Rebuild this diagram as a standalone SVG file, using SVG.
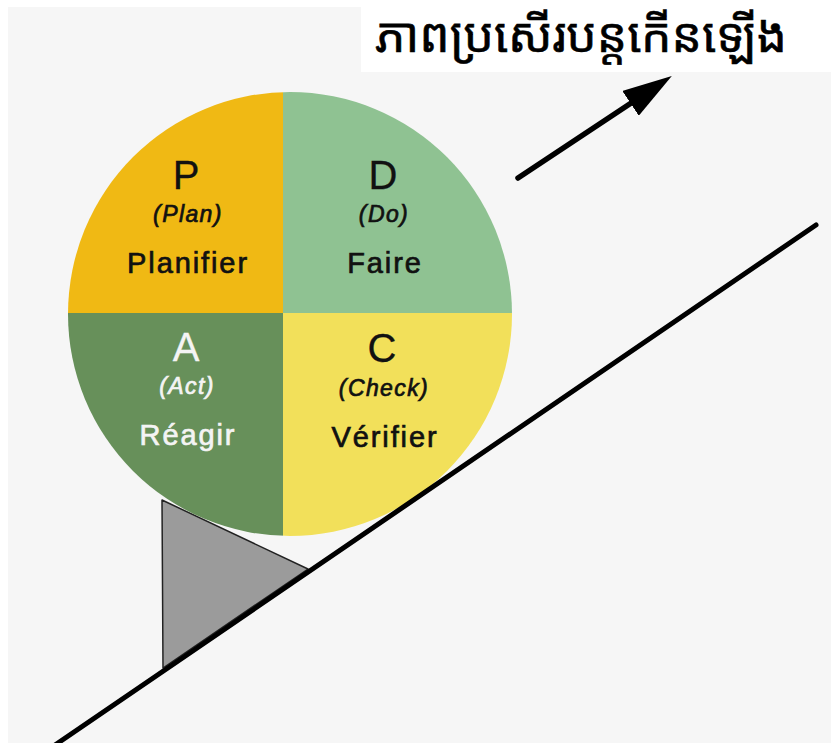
<svg xmlns="http://www.w3.org/2000/svg" width="831" height="743" viewBox="0 0 831 743">
  <defs>
    <style>
      .lt { font-family: "Liberation Sans", Arial, sans-serif; text-anchor: middle; }
      .dark { fill: #111111; stroke: #111111; stroke-width: 0.3px; }
      .light { fill: #f4f4f4; stroke: #f4f4f4; stroke-width: 0.3px; }
      .big { font-size: 40px; }
      .sub { font-size: 23px; font-style: italic; letter-spacing: 1.4px; stroke-width: 0.7px; }
      .word { font-size: 29px; letter-spacing: 1.9px; stroke-width: 0.7px; }
      .km { font-family: "Noto Sans Khmer", "Noto Serif Khmer", "Khmer OS", sans-serif; font-size: 48px; fill: #000000; stroke: #000000; stroke-width: 0.6px; }
    </style>
    <marker id="ah" viewBox="0 0 10 6" refX="6" refY="3" markerWidth="9" markerHeight="5.4" orient="auto" markerUnits="strokeWidth">
      <path d="M0,0 L10,3 L0,6 z" fill="#000000"/>
    </marker>
  </defs>
  <rect x="0" y="0" width="831" height="743" fill="#ffffff"/>
  <rect x="8" y="7" width="823" height="736" fill="#f6f6f6"/>
  <g id="title">
    <rect x="361" y="0" width="470" height="72" fill="#ffffff"/>
    <text class="km" x="581" y="52" text-anchor="middle">ភាពប្រសើរបន្តកើនឡើង</text>
  </g>
  <g id="wedge">
    <polygon points="162,500 163,668 308,569" fill="#9b9b9b" stroke="#222222" stroke-width="1.5" stroke-linejoin="round"/>
  </g>
  <g id="pdca">
    <clipPath id="cc"><circle cx="290" cy="314" r="222"/></clipPath>
    <g clip-path="url(#cc)">
      <rect id="qP" x="60" y="90" width="223" height="223" fill="#f0b914"/>
      <rect id="qD" x="283" y="90" width="240" height="223" fill="#8fc292"/>
      <rect id="qA" x="60" y="313" width="223" height="230" fill="#67905a"/>
      <rect id="qC" x="283" y="313" width="240" height="230" fill="#f2e05a"/>
    </g>
  </g>
  <g id="node-P">
    <text class="lt big dark" x="186" y="189">P</text>
    <text class="lt sub dark" x="188" y="222">(Plan)</text>
    <text class="lt word dark" x="188" y="273">Planifier</text>
  </g>
  <g id="node-D">
    <text class="lt big dark" x="383" y="189">D</text>
    <text class="lt sub dark" x="384" y="222">(Do)</text>
    <text class="lt word dark" x="385" y="273">Faire</text>
  </g>
  <g id="node-A">
    <text class="lt big light" x="186" y="361">A</text>
    <text class="lt sub light" x="187" y="394">(Act)</text>
    <text class="lt word light" x="188" y="445">Réagir</text>
  </g>
  <g id="node-C">
    <text class="lt big dark" x="382" y="362">C</text>
    <text class="lt sub dark" x="384" y="396">(Check)</text>
    <text class="lt word dark" x="385" y="447">Vérifier</text>
  </g>
  <g id="connectors">
    <line x1="55" y1="745" x2="816" y2="225" stroke="#000000" stroke-width="5" stroke-linecap="round"/>
    <line x1="518" y1="178" x2="655.3" y2="87" stroke="#000000" stroke-width="5.5" stroke-linecap="round" marker-end="url(#ah)"/>
  </g>
</svg>
